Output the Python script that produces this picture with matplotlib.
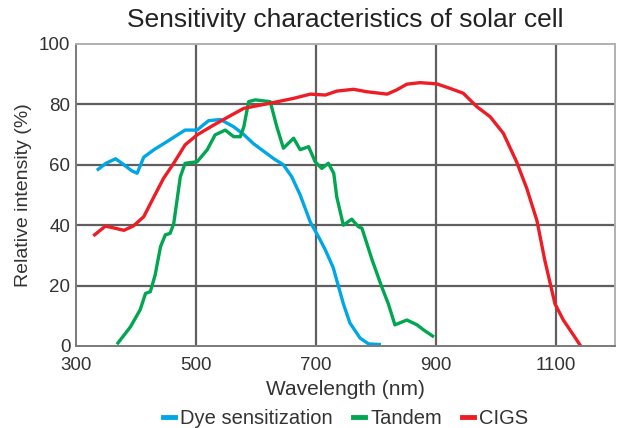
import numpy as np
import matplotlib
matplotlib.use("Agg")
import matplotlib.pyplot as plt

plt.rcParams['font.family'] = ['Liberation Sans', 'DejaVu Sans']

# 色素増感 (Dye sensitization)
dye_nm = [337, 350, 366, 380, 393, 402, 413, 430, 452, 470, 482, 502, 521, 541, 563, 580,
          596, 613, 630, 646, 660, 674, 691, 705, 716, 729, 746, 757, 774, 788, 806]
dye_val = [58.5, 60.5, 62, 60, 58, 57.2, 62.5, 65, 67.7, 70, 71.5, 71.5, 74.6, 75, 72.6, 70,
           67, 64.5, 62, 60, 56, 50, 41, 36, 31.8, 26, 14, 7.6, 2.6, 0.7, 0.5]

# Tandem
tan_nm = [370, 391, 407, 416, 424, 432, 441, 449, 457, 463, 474, 482, 502, 519, 532, 549,
          563, 574, 580, 588, 599, 624, 635, 646, 663, 674, 688, 699, 710, 721, 730, 735,
          746, 760, 771, 777, 794, 810, 821, 832, 852, 869, 880, 895]
tan_val = [1, 6.4, 12, 17.4, 18, 23.5, 32.9, 36.8, 37.3, 40.5, 56, 60.5, 61, 65, 69.9, 71.5,
           69.3, 69.3, 72.6, 80.9, 81.5, 80.9, 72.6, 65.5, 68.8, 65, 66, 61, 58.8, 60.5, 57.2, 49.4,
           40, 42, 39.5, 39, 28.5, 19.6, 14, 7, 8.6, 7, 5.3, 3.3]

# CIGS
cigs_nm = [331, 349, 365, 380, 396, 413, 430, 446, 463, 482, 502, 530, 557, 580, 624, 663,
           691, 716, 735, 763, 785, 819, 835, 852, 874, 902, 924, 946, 969, 991, 1013, 1035,
           1052, 1069, 1082, 1099, 1113, 1130, 1142]
cigs_val = [36.8, 39.7, 39, 38.3, 39.8, 42.8, 49.4, 55.5, 60.5, 66.6, 69.9, 73.2, 76.2, 78.7, 80.4, 82,
            83.4, 83.1, 84.4, 85, 84.2, 83.4, 84.8, 86.7, 87.2, 86.8, 85.3, 83.7, 79.2, 75.9, 70.4, 61,
            52.2, 41.5, 28.5, 14, 8.6, 3.6, 0]

fig = plt.figure(figsize=(6.19, 4.28), dpi=100)
ax = fig.add_axes([0.1228, 0.1916, 0.8715, 0.7056])

ax.plot(dye_nm, dye_val, color='#00A7E6', lw=2.4, label='Dye sensitization')
ax.plot(tan_nm, tan_val, color='#00A650', lw=2.4, label='Tandem')
ax.plot(cigs_nm, cigs_val, color='#EE1C25', lw=2.4, label='CIGS')

ax.set_xlim(300, 1200)
ax.set_ylim(0, 100)
ax.set_xticks([300, 500, 700, 900, 1100])
ax.set_yticks([0, 20, 40, 60, 80, 100])
for x in [500, 700, 900, 1100]:
    ax.axvline(x, color='#5f5f5f', lw=1.6, zorder=0)
for y in [20, 40, 60, 80]:
    ax.axhline(y, color='#5f5f5f', lw=1.6, zorder=0)

ax.spines['left'].set_color('#7a7a7a')
ax.spines['bottom'].set_color('#7a7a7a')
ax.spines['top'].set_color('#b0b0b0')
ax.spines['right'].set_color('#b0b0b0')
for s in ax.spines.values():
    s.set_linewidth(1.4)
ax.tick_params(length=0, labelsize=13.5, colors='#333333')
ax.tick_params(axis='x', pad=8)
ax.tick_params(axis='y', pad=4)

ax.set_xlabel('Wavelength (nm)', fontsize=15, color='#333333', labelpad=4)
ax.set_ylabel('Relative intensity (%)', fontsize=14, color='#333333', labelpad=5)
ax.set_title('Sensitivity characteristics of solar cell', fontsize=19, color='#222222', pad=12)

leg = ax.legend(loc='lower center', bbox_to_anchor=(0.5, -0.285), ncol=3, frameon=False,
                fontsize=14.5, handlelength=0.6, handletextpad=0.25, columnspacing=1.0,
                labelcolor='#333333', borderaxespad=0, borderpad=0.2)
for ln in leg.get_lines():
    ln.set_linewidth(3.5)

fig.savefig('out.png', dpi=100)
